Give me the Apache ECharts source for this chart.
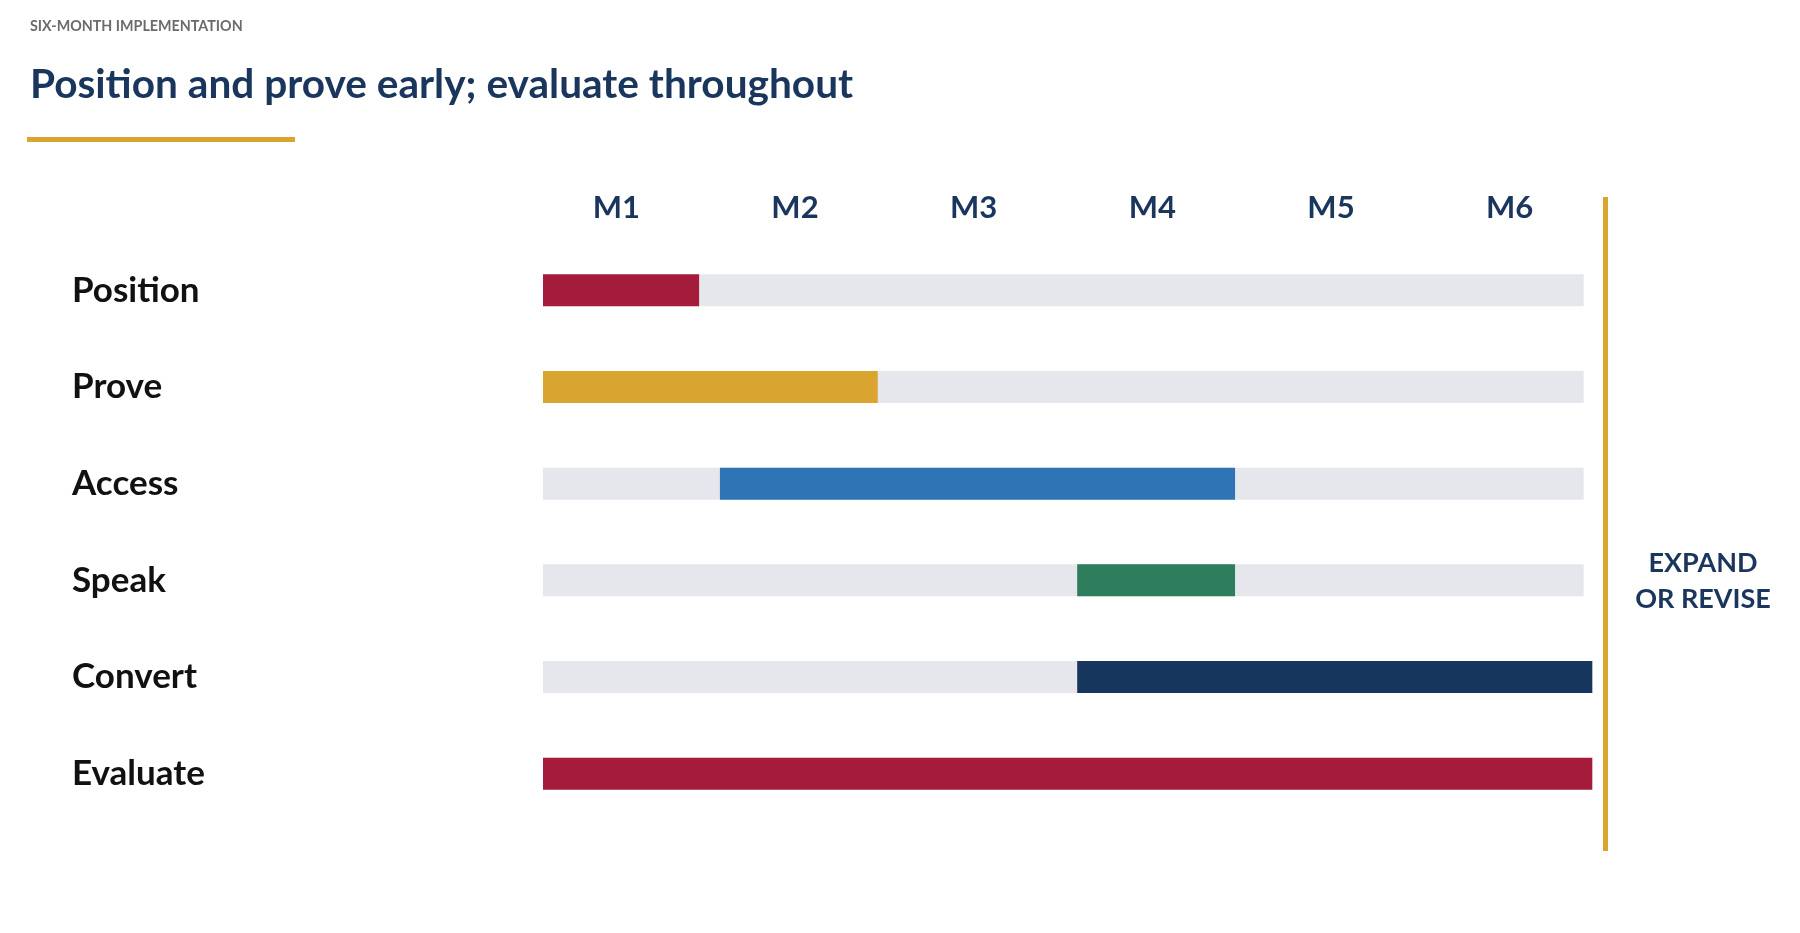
<!DOCTYPE html>
<html>
<head>
<meta charset="utf-8">
<title>Six-month implementation</title>
<script src="https://cdn.jsdelivr.net/npm/echarts@6/dist/echarts.min.js"></script>
<style>
  html, body { margin: 0; padding: 0; background: #fff; }
  #chart { width: 1800px; height: 933px; }
</style>
</head>
<body>
<div id="chart"></div>
<script>
// rows top to bottom, months along the top
const phases = ['Position', 'Prove', 'Access', 'Speak', 'Convert', 'Evaluate'];
const months = ['M1', 'M2', 'M3', 'M4', 'M5', 'M6'];
// start / end of each phase, in months
const phaseStart = [0, 0, 1.02, 3.08, 3.08, 0];
const phaseEnd = [0.9, 1.93, 3.99, 3.99, 6.05, 6.05];
const trackEnd = [6, 6, 6, 6, 6, 6];
const phaseColors = ['#A51C3B', '#D9A52F', '#2F74B5', '#2E7D5C', '#17365D', '#A51C3B'];

const navy = '#1B365D';
const gold = '#D9A52F';
const font = 'Lato';

let chart = echarts.init(document.getElementById('chart'));

chart.setOption({
  backgroundColor: '#fff',
  animation: false,
  textStyle: { fontFamily: font },
  title: [
    {
      text: 'SIX-MONTH IMPLEMENTATION',
      left: 25, top: 14,
      textStyle: { fontSize: 14.3, fontWeight: 'bold', color: '#6b6b6b', fontFamily: font }
    },
    {
      text: 'Position and prove early; evaluate throughout',
      left: 25, top: 59,
      textStyle: { fontSize: 40.6, fontWeight: 'bold', color: navy, fontFamily: font }
    }
  ],
  grid: [
    { left: 543, width: 1058, top: 242, height: 580 },
    { left: 527, width: 1072, top: 229, height: 10 }
  ],
  xAxis: [
    {
      type: 'value', gridIndex: 0, min: 0, max: 6.1,
      show: false
    },
    {
      type: 'category', gridIndex: 1, position: 'top', data: months,
      axisLine: { show: false }, axisTick: { show: false },
      axisLabel: { color: navy, fontSize: 31, fontWeight: 'bold', margin: 6, fontFamily: font }
    }
  ],
  yAxis: [
    {
      type: 'category', gridIndex: 0, data: phases, inverse: true,
      axisLine: { show: false }, axisTick: { show: false },
      axisLabel: {
        color: '#111', fontSize: 35, fontWeight: 'bold', align: 'left',
        margin: 471, padding: [0, 0, 6, 0], fontFamily: font
      }
    },
    { type: 'value', gridIndex: 1, show: false }
  ],
  series: [
    {
      name: 'track', type: 'bar', xAxisIndex: 0, yAxisIndex: 0,
      data: trackEnd, barWidth: 32, barGap: '-100%',
      itemStyle: { color: '#E5E7EC' }, silent: true
    },
    {
      name: 'offset', type: 'bar', stack: 'phase', xAxisIndex: 0, yAxisIndex: 0,
      data: phaseStart, barWidth: 32,
      itemStyle: { color: 'transparent' }, silent: true
    },
    {
      name: 'phase', type: 'bar', stack: 'phase', xAxisIndex: 0, yAxisIndex: 0,
      data: phaseEnd.map((e, i) => ({
        value: +(e - phaseStart[i]).toFixed(2),
        itemStyle: { color: phaseColors[i] }
      })),
      barWidth: 32
    },
    {
      name: 'months', type: 'bar', xAxisIndex: 1, yAxisIndex: 1, data: []
    }
  ],
  graphic: [
    // underline below the title
    { type: 'rect', left: 27, top: 137, shape: { width: 268, height: 5 }, style: { fill: gold } },
    // end-of-pilot marker
    { type: 'rect', left: 1603, top: 197, shape: { width: 5, height: 654 }, style: { fill: gold } },
    {
      type: 'text', x: 1703, y: 581,
      style: {
        text: 'EXPAND\nOR REVISE', fill: navy, fontSize: 27, fontWeight: 'bold',
        fontFamily: font, align: 'center', verticalAlign: 'middle', lineHeight: 36
      }
    }
  ]
});
</script>
</body>
</html>
